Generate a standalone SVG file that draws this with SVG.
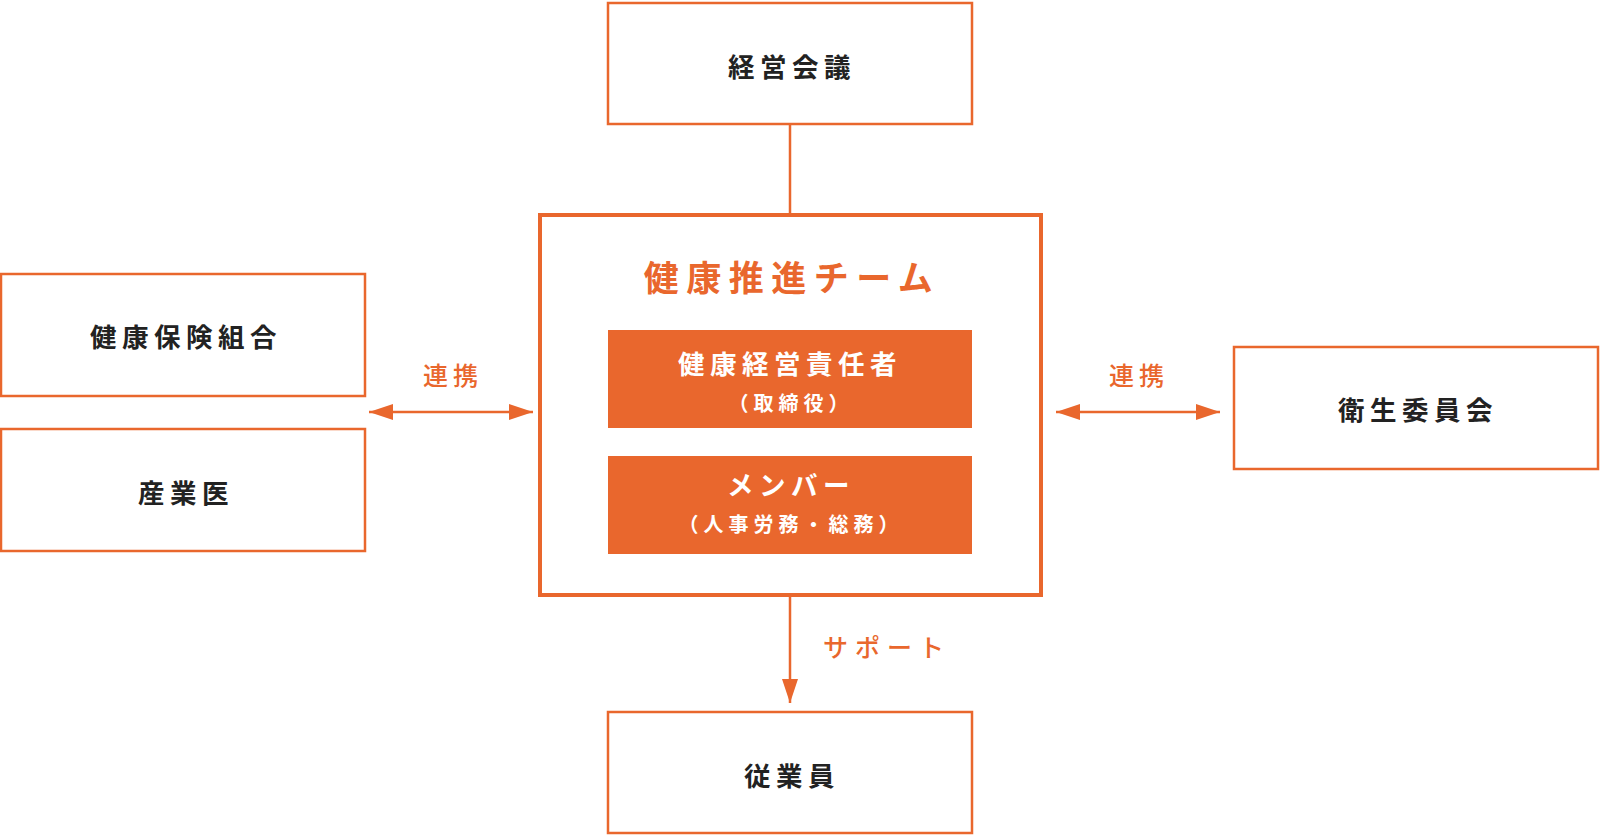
<svg xmlns="http://www.w3.org/2000/svg" width="1600" height="836" viewBox="0 0 1600 836">
<style>
.box{fill:#fff;stroke:#E9672D;stroke-width:2.5}
.team{fill:#fff;stroke:#E9672D;stroke-width:4}
.inner{fill:#E9672D;stroke:none}
.lbl{font-family:"Noto Sans CJK JP","Noto Sans",sans-serif;font-weight:700;fill:#222;font-size:26.5px;letter-spacing:5.5px;text-anchor:middle}
.org{fill:#E9672D}
.wht{fill:#fff}
.ln{stroke:#E9672D;stroke-width:2.5;fill:none}
</style>
<defs>
<marker id="ah" viewBox="0 0 24 16" refX="24" refY="8" markerWidth="24" markerHeight="16" markerUnits="userSpaceOnUse" orient="auto-start-reverse">
<path d="M0,0 L24,8 L0,16 Z" fill="#E9672D"/>
</marker>
</defs>
<g id="connectors">
<line class="ln" x1="790" y1="124" x2="790" y2="214"/>
<line class="ln" x1="369" y1="412" x2="533" y2="412" marker-start="url(#ah)" marker-end="url(#ah)"/>
<line class="ln" x1="1056" y1="412" x2="1220" y2="412" marker-start="url(#ah)" marker-end="url(#ah)"/>
<line class="ln" x1="790" y1="595" x2="790" y2="703" marker-end="url(#ah)"/>
<text class="lbl org" x="453" y="385" style="font-size:25px;letter-spacing:5px;font-weight:500">連携</text>
<text class="lbl org" x="1139" y="385" style="font-size:25px;letter-spacing:5px;font-weight:500">連携</text>
<text class="lbl org" x="887" y="657" style="font-size:25px;letter-spacing:7px;font-weight:500">サポート</text>
</g>
<g id="keiei-kaigi">
<rect class="box" x="608" y="3" width="364" height="121"/>
<text class="lbl" x="792" y="77">経営会議</text>
</g>
<g id="team">
<rect class="team" x="540" y="215" width="501" height="380"/>
<text class="lbl org" x="792" y="291" style="font-size:35px;letter-spacing:7.5px">健康推進チーム</text>
</g>
<g id="sekininsha">
<rect class="inner" x="608" y="330" width="364" height="98"/>
<text class="lbl wht" x="790" y="374" style="letter-spacing:5.5px">健康経営責任者</text>
<text class="lbl wht" x="791" y="411" style="font-size:20px;letter-spacing:5px">（取締役）</text>
</g>
<g id="member">
<rect class="inner" x="608" y="456" width="364" height="98"/>
<text class="lbl wht" x="791" y="495">メンバー</text>
<text class="lbl wht" x="791" y="532" style="font-size:20px;letter-spacing:5px">（人事労務・総務）</text>
</g>
<g id="kenpo">
<rect class="box" x="1" y="274" width="364" height="122"/>
<text class="lbl" x="186" y="347">健康保険組合</text>
</g>
<g id="sangyoi">
<rect class="box" x="1" y="429" width="364" height="122"/>
<text class="lbl" x="186" y="503">産業医</text>
</g>
<g id="eisei">
<rect class="box" x="1234" y="347" width="364" height="122"/>
<text class="lbl" x="1418" y="420">衛生委員会</text>
</g>
<g id="jugyoin">
<rect class="box" x="608" y="712" width="364" height="121"/>
<text class="lbl" x="792" y="786">従業員</text>
</g>
</svg>
